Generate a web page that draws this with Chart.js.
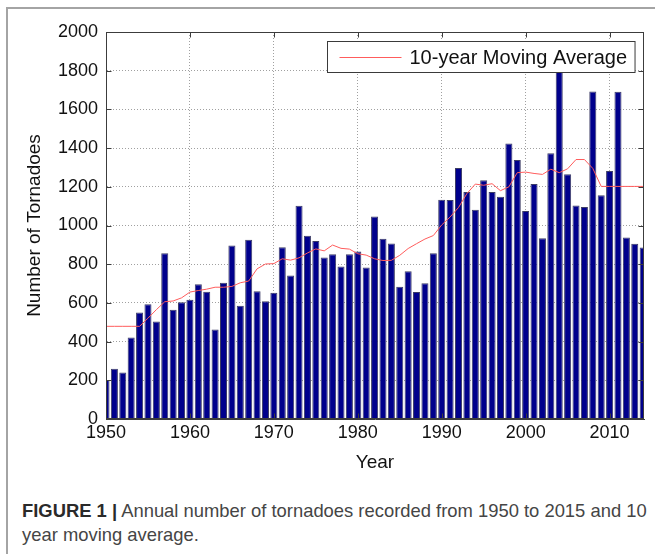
<!DOCTYPE html>
<html>
<head>
<meta charset="utf-8">
<script src="https://cdn.jsdelivr.net/npm/chart.js@4.4.1/dist/chart.umd.min.js"></script>
<style>
  html, body { margin: 0; padding: 0; background: #fff; }
  #fig { position: relative; width: 655px; height: 554px; overflow: hidden; background: #fff; }
  #frame { position: absolute; left: 6px; top: 7px; width: 700px; height: 600px;
           border-left: 2px solid #a4a4a4; border-top: 2px solid #a4a4a4; }
  #plot { position: absolute; left: 0; top: 0; }
  #caption { position: absolute; left: 22px; top: 499px; margin: 0;
             font-family: "Liberation Sans", Arial, sans-serif; font-size: 18.4px;
             line-height: 24px; color: #454545; white-space: nowrap; }
  #caption b { color: #2a2a2a; }
</style>
</head>
<body>
<div id="fig">
  <div id="frame"></div>
  <canvas id="plot" width="655" height="480"></canvas>
  <p id="caption"><b>FIGURE 1 |</b> Annual number of tornadoes recorded from 1950 to 2015 and 10<br>year moving average.</p>
</div>
<script>
// Years on the horizontal axis
const years = [
  1950, 1951, 1952, 1953, 1954, 1955, 1956, 1957, 1958, 1959,
  1960, 1961, 1962, 1963, 1964, 1965, 1966, 1967, 1968, 1969,
  1970, 1971, 1972, 1973, 1974, 1975, 1976, 1977, 1978, 1979,
  1980, 1981, 1982, 1983, 1984, 1985, 1986, 1987, 1988, 1989,
  1990, 1991, 1992, 1993, 1994, 1995, 1996, 1997, 1998, 1999,
  2000, 2001, 2002, 2003, 2004, 2005, 2006, 2007, 2008, 2009,
  2010, 2011, 2012, 2013, 2014
];

// Tornadoes recorded per year
const tornadoCounts = [
  201, 260, 240, 421, 550, 593, 504, 856, 564, 604,
  616, 697, 657, 463, 704, 897, 585, 926, 660, 608,
  653, 888, 741, 1102, 947, 920, 835, 852, 788, 852,
  866, 783, 1046, 931, 907, 684, 764, 656, 702, 856,
  1133, 1132, 1297, 1173, 1082, 1234, 1173, 1148, 1424, 1339,
  1075, 1215, 934, 1374, 1817, 1265, 1103, 1096, 1692, 1156,
  1282, 1691, 938, 906, 886
];

// 10-year moving average of the yearly counts
const movingAverage = [
  479, 479, 479, 479, 479, 521, 565, 606, 610, 626,
  656, 664, 671, 681, 681, 685, 704, 713, 776, 801,
  803, 828, 821, 833, 858, 879, 869, 899, 882, 878,
  854, 847, 828, 819, 820, 846, 881, 906, 930, 948,
  1003, 1044, 1093, 1165, 1214, 1208, 1216, 1180, 1200, 1273,
  1276, 1269, 1264, 1291, 1273, 1293, 1341, 1341, 1295, 1202,
  1202, 1202, 1202, 1202, 1202
];

// Axis tick values
const yearTicks = [1950, 1960, 1970, 1980, 1990, 2000, 2010];
const countTicks = [0, 200, 400, 600, 800, 1000, 1200, 1400, 1600, 1800, 2000];

const FONT = '"Liberation Sans", Arial, Helvetica, sans-serif';
const AXIS_COLOR = '#3c3c3c';

// Box round the plot area, inward tick marks and the legend box
const boxAndLegend = {
  id: 'boxAndLegend',
  afterDatasetsDraw(chart) {
    const { ctx, chartArea: a, scales } = chart;
    const L = Math.round(a.left) + 0.5, R = Math.round(a.right) - 0.5;
    const T = Math.round(a.top) + 0.5, B = Math.round(a.bottom) - 0.5;
    ctx.save();
    ctx.strokeStyle = AXIS_COLOR;
    ctx.lineWidth = 1;
    ctx.setLineDash([]);
    ctx.strokeRect(L, T, R - L, B - T);
    const tick = 5;
    ctx.beginPath();
    scales.y.ticks.forEach(t => {
      const py = Math.round(scales.y.getPixelForValue(t.value)) + 0.5;
      ctx.moveTo(L, py); ctx.lineTo(L + tick, py);
      ctx.moveTo(R, py); ctx.lineTo(R - tick, py);
    });
    scales.x.ticks.forEach(t => {
      const px = Math.round(scales.x.getPixelForValue(t.value)) + 0.5;
      ctx.moveTo(px, T); ctx.lineTo(px, T + tick);
      ctx.moveTo(px, B); ctx.lineTo(px, B - tick);
    });
    ctx.stroke();

    // Legend for the moving-average line
    const ds = chart.data.datasets[1];
    ctx.font = '20px ' + FONT;
    const textW = ctx.measureText(ds.label).width;
    const sample = 62;
    const boxW = 12 + sample + 8 + textW + 8;
    const boxH = 31;
    const bx = Math.round(a.right - 9 - boxW) + 0.5;
    const by = Math.round(a.top + 9) + 0.5;
    ctx.fillStyle = '#ffffff';
    ctx.fillRect(bx, by, boxW, boxH);
    ctx.strokeStyle = '#3a3a3a';
    ctx.strokeRect(bx, by, boxW, boxH);
    const cy = by + boxH / 2;
    ctx.strokeStyle = ds.borderColor;
    ctx.lineWidth = 1;
    ctx.beginPath();
    ctx.moveTo(bx + 12, Math.round(cy) + 0.5);
    ctx.lineTo(bx + 12 + sample, Math.round(cy) + 0.5);
    ctx.stroke();
    ctx.fillStyle = '#111111';
    ctx.textBaseline = 'middle';
    ctx.textAlign = 'left';
    ctx.fillText(ds.label, bx + 12 + sample + 8, cy + 1);
    ctx.restore();
  }
};

const gridOpts = { color: '#a0a0a0', lineWidth: 1, drawTicks: false, offset: false };
const borderOpts = { display: true, color: AXIS_COLOR, width: 1, dash: [1, 2] };

new Chart(document.getElementById('plot'), {
  type: 'bar',
  data: {
    datasets: [
      {
        label: 'Annual tornadoes',
        data: years.map((y, i) => ({ x: y, y: tornadoCounts[i] })),
        backgroundColor: '#00008c',
        borderColor: '#3d3d66',
        borderWidth: 1,
        barPercentage: 0.84,
        categoryPercentage: 1.0,
        clip: 0,
        order: 2
      },
      {
        type: 'line',
        label: '10-year Moving Average',
        data: years.map((y, i) => ({ x: y, y: movingAverage[i] })),
        borderColor: '#ff5c5c',
        borderWidth: 1,
        pointRadius: 0,
        tension: 0,
        fill: false,
        clip: 0,
        order: 1
      }
    ]
  },
  options: {
    responsive: false,
    animation: false,
    events: [],
    layout: { padding: { left: 0, right: 11, top: 32, bottom: 6 } },
    plugins: { legend: { display: false }, tooltip: { enabled: false } },
    scales: {
      x: {
        type: 'linear',
        min: yearTicks[0],
        max: 2014.1,
        offset: false,
        grid: gridOpts,
        border: borderOpts,
        afterBuildTicks: s => { s.ticks = yearTicks.map(v => ({ value: v })); },
        afterFit: s => { s.height = 55; },
        ticks: {
          color: '#111111',
          font: { family: FONT, size: 18 },
          padding: 3,
          maxRotation: 0,
          autoSkip: false,
          callback: v => String(v)
        },
        title: {
          display: true,
          text: 'Year',
          color: '#111111',
          font: { family: FONT, size: 19 },
          padding: { top: 4, bottom: 0 }
        }
      },
      y: {
        min: countTicks[0],
        max: countTicks[countTicks.length - 1],
        grid: gridOpts,
        border: borderOpts,
        afterBuildTicks: s => { s.ticks = countTicks.map(v => ({ value: v })); },
        afterFit: s => { s.width = 106; },
        ticks: {
          color: '#111111',
          font: { family: FONT, size: 18 },
          padding: 8,
          callback: v => String(v)
        },
        title: {
          display: true,
          text: 'Number of Tornadoes',
          color: '#111111',
          font: { family: FONT, size: 19 },
          padding: { top: 23, bottom: 0 }
        }
      }
    }
  },
  plugins: [boxAndLegend]
});
</script>
</body>
</html>
